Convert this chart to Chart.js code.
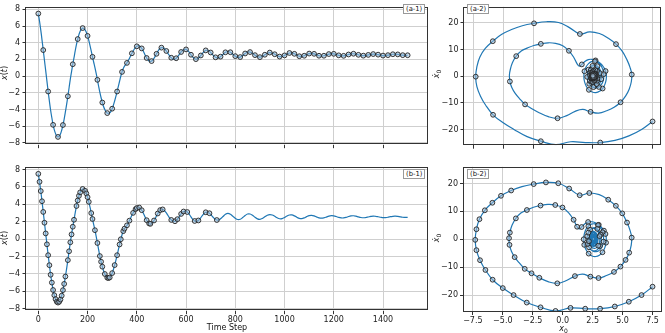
<!DOCTYPE html>
<html><head><meta charset="utf-8">
<script src="https://cdn.jsdelivr.net/npm/chart.js@4.4.1/dist/chart.umd.min.js"></script>
<style>
html,body{margin:0;padding:0;background:#fff;}
body{width:665px;height:333px;position:relative;overflow:hidden;font-family:"DejaVu Sans",sans-serif;}
canvas{position:absolute;}
.lbl{position:absolute;font-size:8px;color:#111;white-space:nowrap;line-height:1;transform:translate(-50%,-50%);}
.rot{transform:translate(-50%,-50%) rotate(-90deg);}
.m{font-style:italic;}
.box{position:absolute;font-size:6.8px;color:#111;border:1px solid #999;background:#fff;line-height:8px;height:8px;padding:0 2px;white-space:nowrap;}
sub{font-size:6px;vertical-align:-2px;line-height:0;}
</style></head><body>
<canvas id="a1" width="432" height="152" style="left:0;top:0"></canvas>
<canvas id="b1" width="432" height="173" style="left:0;top:160px"></canvas>
<canvas id="a2" width="235" height="152" style="left:430px;top:0"></canvas>
<canvas id="b2" width="235" height="173" style="left:430px;top:160px"></canvas>

<div class="lbl rot" style="left:5.3px;top:73.3px"><span class="m">x</span>(<span class="m">t</span>)</div>
<div class="lbl rot" style="left:5.3px;top:237.7px"><span class="m">x</span>(<span class="m">t</span>)</div>
<div class="lbl rot" style="left:437px;top:73.5px"><span class="m">ẋ</span><sub>0</sub></div>
<div class="lbl rot" style="left:437px;top:238px"><span class="m">ẋ</span><sub>0</sub></div>
<div class="lbl" style="left:227px;top:328px">Time Step</div>
<div class="lbl" style="left:563.5px;top:328.5px"><span class="m">x</span><sub>0</sub></div>

<div class="box" style="left:403px;top:4px">(a-1)</div>
<div class="box" style="left:467px;top:4px">(a-2)</div>
<div class="box" style="left:403px;top:169px">(b-1)</div>
<div class="box" style="left:467px;top:169px">(b-2)</div>

<script>
// ---- data ----
const lineT = [0,5,10,15,20,25,30,35,40,45,50,55,60,65,70,75,80,85,90,95,100,105,110,115,120,125,130,135,140,145,150,155,160,165,170,175,180,185,190,195,200,205,210,215,220,225,230,235,240,245,250,255,260,265,270,275,280,285,290,295,300,305,310,315,320,325,330,335,340,345,350,355,360,365,370,375,380,385,390,395,400,405,410,415,420,425,430,435,440,445,450,455,460,465,470,475,480,485,490,495,500,505,510,515,520,525,530,535,540,545,550,555,560,565,570,575,580,585,590,595,600,605,610,615,620,625,630,635,640,645,650,655,660,665,670,675,680,685,690,695,700,705,710,715,720,725,730,735,740,745,750,760,770,780,790,800,810,820,830,840,850,860,870,880,890,900,910,920,930,940,950,960,970,980,990,1000,1010,1020,1030,1040,1050,1060,1070,1080,1090,1100,1110,1120,1130,1140,1150,1160,1170,1180,1190,1200,1210,1220,1230,1240,1250,1260,1270,1280,1290,1300,1310,1320,1330,1340,1350,1360,1370,1380,1390,1400,1410,1420,1430,1440,1450,1460,1470,1480,1490,1500];
const lineX = [7.50,6.58,5.52,4.35,3.12,1.88,0.65,-0.60,-1.85,-3.00,-4.10,-5.00,-5.85,-6.45,-6.90,-7.20,-7.30,-7.20,-6.95,-6.50,-5.87,-5.15,-4.30,-3.40,-2.42,-1.40,-0.37,0.54,1.42,2.22,3.05,3.80,4.44,4.97,5.37,5.62,5.76,5.72,5.55,5.25,4.82,4.28,3.66,2.99,2.31,1.66,1.02,0.32,-0.45,-1.22,-1.95,-2.60,-3.17,-3.64,-4.01,-4.28,-4.44,-4.48,-4.41,-4.23,-3.91,-3.49,-2.99,-2.44,-1.85,-1.24,-0.62,-0.02,0.50,0.91,1.20,1.38,1.58,1.83,2.12,2.43,2.73,3.01,3.25,3.44,3.57,3.635,3.62,3.51,3.32,3.06,2.76,2.45,2.17,1.95,1.80,1.75,1.80,1.93,2.14,2.39,2.67,2.94,3.17,3.33,3.41,3.41,3.33,3.19,3.01,2.79,2.57,2.37,2.20,2.08,2.03,2.05,2.14,2.29,2.48,2.69,2.89,3.05,3.17,3.22,3.20,3.11,2.96,2.77,2.56,2.36,2.20,2.08,2.03,2.05,2.14,2.29,2.47,2.66,2.84,2.99,3.08,3.10,3.06,2.97,2.83,2.67,2.51,2.36,2.25,2.19,2.18,2.23,2.33,2.45,2.59,2.85,2.95,2.86,2.63,2.39,2.25,2.28,2.47,2.71,2.88,2.88,2.73,2.51,2.32,2.27,2.37,2.56,2.74,2.82,2.77,2.62,2.45,2.34,2.35,2.48,2.65,2.77,2.78,2.67,2.51,2.38,2.36,2.44,2.58,2.70,2.73,2.67,2.55,2.44,2.40,2.44,2.53,2.64,2.69,2.67,2.59,2.49,2.43,2.43,2.49,2.59,2.66,2.68,2.63,2.55,2.48,2.45,2.48,2.54,2.60,2.64,2.62,2.57,2.51,2.46,2.47,2.51,2.58,2.62,2.63,2.60,2.55,2.51,2.49,2.50];
const lineV = [-17.0,-20.0,-22.4,-24.1,-24.9,-24.9,-24.6,-25.7,-24.4,-22.7,-20.0,-17.5,-14.5,-11.0,-7.5,-3.9,-0.2,3.6,7.2,10.4,13.1,15.6,17.5,18.9,19.8,20.4,20.1,18.2,15.8,16.6,16.0,14.2,12.0,9.3,6.0,3.2,0.6,-2.1,-4.8,-7.4,-9.8,-11.7,-13.0,-13.9,-13.4,-12.5,-13.2,-14.8,-15.8,-15.2,-13.8,-12.2,-10.6,-8.4,-6.4,-4.3,-2.0,0.4,2.4,5.0,7.5,9.4,10.5,11.5,12.1,12.5,12.3,11.4,9.5,7.0,4.5,3.7,4.4,5.5,6.2,6.3,5.9,5.2,4.3,3.1,1.9,0.5,-1.21,-3.09,-4.65,-5.71,-6.17,-5.97,-5.14,-3.77,-1.99,0.0,1.83,3.46,4.70,5.43,5.55,5.06,4.01,2.52,0.75,-0.85,-2.19,-3.30,-4.07,-4.43,-4.34,-3.81,-2.89,-1.67,-0.29,1.15,2.44,3.44,4.03,4.13,3.73,2.89,1.69,0.29,-1.15,-2.44,-3.44,-4.03,-4.13,-3.73,-2.89,-1.69,-0.29,1.13,2.39,3.34,3.84,3.84,3.34,2.39,1.13,-0.23,-1.36,-2.32,-2.99,-3.27,-3.15,-2.63,-1.77,-0.70,0.43,1.44,2.25,2.75,2.87,1.96,0.0,-1.73,-2.58,-2.11,-0.57,1.23,2.36,2.22,0.90,-0.82,-2.05,-2.23,-1.27,0.29,1.54,2.01,1.45,0.15,-1.09,-1.76,-1.53,-0.52,0.78,1.66,1.61,0.66,-0.60,-1.48,-1.57,-0.82,0.33,1.22,1.43,0.84,-0.18,-0.97,-1.23,-0.84,0.0,0.74,1.08,0.85,0.16,-0.54,-0.95,-0.88,-0.35,0.35,0.88,0.93,0.49,-0.18,-0.68,-0.84,-0.56,0.0,0.48,0.71,0.56,0.11,-0.38,-0.66,-0.58,-0.20,0.28,0.59,0.59,0.28,-0.15,-0.44,-0.50,-0.31,0.02,0.15];
// time steps carrying a marker in panels (b-1)/(b-2)
const bMarkT = [0,5,10,15,20,25,30,35,40,45,50,55,60,65,70,75,80,85,90,95,100,105,110,120,125,130,135,140,145,155,160,165,170,180,190,195,200,205,215,220,230,240,250,255,260,270,280,285,290,300,310,320,330,335,345,350,360,370,385,395,400,410,420,440,450,455,470,485,495,505,540,555,565,580,590,605,635,650,680,695,725];
const aMarkEvery = 20; // panels (a-1)/(a-2): a marker on every 20th step
const timeTicks = [0,200,400,600,800,1000,1200,1400];
const xTicks = [-8,-6,-4,-2,0,2,4,6,8];
const phaseXTicks = [-7.5,-5,-2.5,0,2.5,5,7.5];
const phaseYTicks = [-20,-10,0,10,20];

// ---- build point lists from the arrays ----
const tsLine = lineT.map((t,i)=>({x:t,y:lineX[i]}));
const phLine = lineT.map((t,i)=>({x:lineX[i],y:lineV[i]}));
const aIdx = lineT.map((t,i)=>i).filter(i=>lineT[i]%aMarkEvery===0);
const bIdx = lineT.map((t,i)=>i).filter(i=>bMarkT.includes(lineT[i]));
const tsA = aIdx.map(i=>tsLine[i]), phA = aIdx.map(i=>phLine[i]);
const tsB = bIdx.map(i=>tsLine[i]), phB = bIdx.map(i=>phLine[i]);

const FONT = {family:'DejaVu Sans', size:8};
const minus = s => String(s).replace('-', '\u2212');
const frame = {id:'frame', afterDraw(c){const a=c.chartArea,ctx=c.ctx;ctx.save();ctx.strokeStyle='#333';ctx.lineWidth=1;
  ctx.strokeRect(Math.round(a.left)-0.5,Math.round(a.top)+0.5,Math.round(a.right-a.left)+1,Math.round(a.bottom-a.top)-1);ctx.restore();}};

function axis(o){
  return {
    type:'linear', min:o.min, max:o.max, position:o.pos,
    afterBuildTicks:s=>{s.ticks=o.ticks.map(v=>({value:v}));},
    afterFit:s=>{ if(o.pos==='left') s.width=o.size; else s.height=o.size; },
    grid:{color:'#cfcfcf', lineWidth:1, drawTicks:true, tickLength:3.5, tickColor:'#333', tickWidth:1},
    border:{display:false},
    ticks:{display:o.labels, font:FONT, color:'#222', padding:o.pad, maxRotation:0, autoSkip:false,
      callback:v=>minus(o.fmt?o.fmt(v):v)}
  };
}

function make(id, line, marks, xo, yo, pad){
  new Chart(document.getElementById(id), {
    type:'scatter',
    data:{datasets:[
      {data:marks, showLine:false, pointRadius:2.4, pointBackgroundColor:'rgba(160,190,215,0.55)', pointBorderColor:'#222', pointBorderWidth:0.9, order:0},
      {data:line, showLine:true, borderColor:'#1f77b4', borderWidth:1.2, pointRadius:0, tension:0.4, fill:false, order:1}
    ]},
    options:{responsive:false, animation:false, devicePixelRatio:1, events:[],
      layout:{padding:pad},
      plugins:{legend:{display:false}, tooltip:{enabled:false}},
      scales:{x:axis(xo), y:axis(yo)}},
    plugins:[frame]
  });
}

const tX = (labels,size)=>({min:-50,max:1579,pos:'bottom',ticks:timeTicks,labels:labels,size:size,pad:1});
const tY = {min:-8.23,max:8.25,pos:'left',ticks:xTicks,labels:true,size:26,pad:2.5};
const pX = (labels,size)=>({min:-8.28,max:8.13,pos:'bottom',ticks:phaseXTicks,labels:labels,size:size,pad:1,fmt:v=>v.toFixed(1)});
const pY = (size)=>({min:-25.9,max:26.0,pos:'left',ticks:phaseYTicks,labels:true,size:size,pad:2});

make('a1', tsLine, tsA, tX(false,6), tY, {left:0,right:4.3,top:0.5,bottom:0});
make('b1', tsLine, tsB, tX(true,22.3), tY, {left:0,right:4.3,top:4.7,bottom:0});
make('a2', phLine, phA, pX(false,5.3), pY(34), {left:0,right:2.3,top:0.5,bottom:0});
make('b2', phLine, phB, pX(true,21.5), pY(33.5), {left:0,right:2.3,top:4.7,bottom:0});
</script>
</body></html>
